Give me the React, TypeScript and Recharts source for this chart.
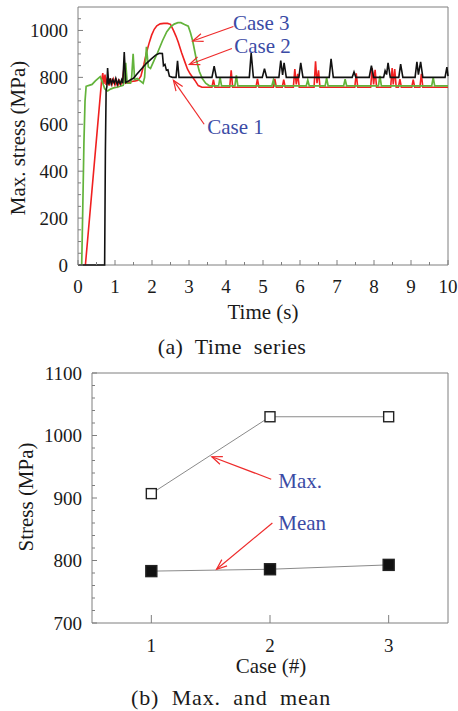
import React from 'react';
import { LineChart, Line, XAxis, YAxis, ReferenceArea, ReferenceLine, ReferenceDot } from 'recharts';

const FONT = "'Liberation Serif', 'Times New Roman', serif";
const BLUE = '#3b4ba5';
const ARROW = '#ee2b2b';
const FRAME = '#7f7f7f';

// ---------- (a) time series ----------
const timeTicks = [0, 0.5, 1, 1.5, 2, 2.5, 3, 3.5, 4, 4.5, 5, 5.5, 6, 6.5, 7, 7.5, 8, 8.5, 9, 9.5, 10];
const timeLabels = [0, 1, 2, 3, 4, 5, 6, 7, 8, 9, 10];
const stressTicks = [0, 50, 100, 150, 200, 250, 300, 350, 400, 450, 500, 550, 600, 650, 700, 750, 800, 850, 900, 950, 1000, 1050];
const stressLabels = [0, 200, 400, 600, 800, 1000];

const case1: [number, number][] = [
  [0, 0], [0.72, 0], [0.74, 480], [0.76, 745], [0.78, 760], [0.8, 840], [0.83, 770], [0.87, 795], [0.9, 772],
  [0.94, 790], [0.98, 775], [1.02, 795], [1.06, 770], [1.1, 788], [1.14, 772], [1.18, 790], [1.21, 775],
  [1.25, 908], [1.29, 778], [1.34, 782], [1.42, 790], [1.5, 796], [1.6, 815], [1.72, 837], [1.85, 860],
  [1.99, 880], [2.1, 895], [2.2, 903], [2.28, 902], [2.31, 850], [2.35, 855], [2.39, 830], [2.43, 832],
  [2.47, 805], [2.55, 800], [2.65, 800], [2.69, 870], [2.73, 800], [3.62, 800], [3.68, 848], [3.74, 800],
  [4.63, 800], [4.68, 905], [4.74, 800], [4.98, 800], [5.04, 837], [5.1, 800], [5.43, 800], [5.48, 872],
  [5.53, 810], [5.57, 862], [5.63, 800], [5.97, 800], [6.02, 862], [6.08, 800], [6.79, 800], [6.84, 879],
  [6.9, 800], [7.41, 800], [7.46, 823], [7.51, 800], [7.87, 800], [7.93, 850], [7.99, 800], [8.26, 800],
  [8.3, 828], [8.34, 812], [8.38, 862], [8.44, 800], [8.67, 800], [8.72, 856], [8.78, 800], [9.11, 800],
  [9.16, 866], [9.2, 812], [9.26, 866], [9.32, 800], [9.92, 800], [9.97, 844], [10, 805],
];

const case2: [number, number][] = [
  [0.2, 0], [0.64, 790], [0.67, 818], [0.7, 772], [0.73, 812], [0.76, 768], [0.8, 800], [0.84, 765],
  [0.88, 795], [0.92, 770], [0.96, 792], [1.0, 768], [1.04, 788], [1.08, 765], [1.12, 785], [1.16, 770],
  [1.2, 780], [1.25, 852], [1.29, 775], [1.36, 778], [1.45, 782], [1.55, 785], [1.62, 788], [1.7, 805],
  [1.78, 855], [1.85, 905], [1.92, 945], [1.99, 980], [2.06, 1005], [2.13, 1020], [2.22, 1028], [2.32, 1030],
  [2.42, 1030], [2.5, 1026], [2.58, 1000], [2.65, 975], [2.71, 950], [2.8, 905], [2.89, 865], [2.96, 835],
  [3.03, 815], [3.1, 800], [3.16, 787], [3.25, 765], [3.35, 758], [3.62, 758], [3.66, 790], [3.7, 758],
  [4.1, 758], [4.14, 830], [4.18, 758], [4.81, 758], [4.85, 794], [4.89, 758], [5.28, 758], [5.32, 794],
  [5.36, 758], [5.52, 758], [5.56, 790], [5.6, 758], [5.82, 758], [5.86, 835], [5.9, 770], [5.94, 815],
  [5.98, 758], [6.38, 758], [6.42, 868], [6.46, 775], [6.5, 830], [6.54, 758], [7.48, 758], [7.52, 817],
  [7.56, 758], [7.91, 758], [7.95, 840], [7.99, 770], [8.03, 832], [8.07, 758], [8.45, 758], [8.49, 840],
  [8.52, 770], [8.56, 835], [8.6, 758], [8.66, 758], [8.7, 792], [8.74, 758], [9.02, 758], [9.06, 790],
  [9.1, 758], [9.24, 758], [9.28, 815], [9.32, 758], [10, 758],
];

const case3: [number, number][] = [
  [0.1, 0], [0.13, 250], [0.16, 520], [0.19, 700], [0.22, 762], [0.3, 766], [0.38, 770], [0.47, 785],
  [0.6, 803], [0.66, 780], [0.72, 752], [0.8, 742], [0.88, 750], [0.96, 755], [1.05, 758], [1.14, 762],
  [1.22, 766], [1.25, 780], [1.29, 862], [1.33, 775], [1.42, 775], [1.45, 800], [1.49, 900], [1.53, 790],
  [1.6, 795], [1.68, 785], [1.76, 775], [1.8, 800], [1.85, 930], [1.9, 845], [1.96, 838], [2.05, 870],
  [2.15, 905], [2.28, 955], [2.4, 995], [2.5, 1015], [2.6, 1027], [2.7, 1033], [2.78, 1033], [2.88, 1025],
  [2.98, 1018], [3.04, 990], [3.1, 955], [3.2, 875], [3.28, 825], [3.36, 795], [3.45, 775], [3.55, 764],
  [3.8, 764], [3.84, 800], [3.88, 764], [4.24, 764], [4.28, 808], [4.32, 764], [5.24, 764], [5.28, 788],
  [5.32, 764], [6.17, 764], [6.21, 788], [6.25, 764], [6.68, 764], [6.72, 798], [6.76, 764], [7.18, 764],
  [7.22, 792], [7.26, 764], [8.12, 764], [8.16, 806], [8.2, 764], [9.56, 764], [9.6, 800], [9.64, 764],
  [10, 764],
];

// ---------- (b) max and mean ----------
const cases = [1, 2, 3];
const maxStress = [907, 1030, 1030];
const meanStress = [783, 786, 793];
const caseTicks = [1, 2, 3];
const stressTicksB = [700, 720, 740, 760, 780, 800, 820, 840, 860, 880, 900, 920, 940, 960, 980, 1000, 1020, 1040, 1060, 1080, 1100];
const stressLabelsB = [700, 800, 900, 1000, 1100];

const toPts = (arr: [number, number][]) => arr.map(([t, v]) => ({ t, v }));
const pts1 = toPts(case1);
const pts2 = toPts(case2);
const pts3 = toPts(case3);
const dataB = cases.map((c, i) => ({ c, max: maxStress[i], mean: meanStress[i] }));

const makeXTick = (labels: number[], major: number, minor: number, gap: number) => (props: any) => {
  const { x, y, payload } = props;
  const isMajor = labels.includes(payload.value);
  return (
    <g>
      <line x1={x} y1={y} x2={x} y2={y - (isMajor ? major : minor)} stroke={FRAME} strokeWidth={1} />
      {isMajor && (
        <text x={x} y={y + gap} textAnchor="middle" dominantBaseline="central" style={{ fontFamily: FONT, fontSize: 19 }} fill="#1a1a1a">
          {payload.value}
        </text>
      )}
    </g>
  );
};

const makeYTick = (labels: number[], major: number, minor: number, gap: number) => (props: any) => {
  const { x, y, payload } = props;
  const isMajor = labels.includes(payload.value);
  return (
    <g>
      <line x1={x} y1={y} x2={x + (isMajor ? major : minor)} y2={y} stroke={FRAME} strokeWidth={1} />
      {isMajor && (
        <text x={x - gap} y={y} textAnchor="end" dominantBaseline="central" style={{ fontFamily: FONT, fontSize: 19 }} fill="#1a1a1a">
          {payload.value}
        </text>
      )}
    </g>
  );
};

const Arrow = (props: any) => {
  const { x1, y1, x2, y2 } = props;
  const ang = Math.atan2(y1 - y2, x1 - x2);
  const L = 11;
  const a = 0.38;
  return (
    <g>
      <line x1={x1} y1={y1} x2={x2} y2={y2} stroke={ARROW} strokeWidth={1.2} />
      <polyline
        points={`${x2 + L * Math.cos(ang + a)},${y2 + L * Math.sin(ang + a)} ${x2},${y2} ${x2 + L * Math.cos(ang - a)},${y2 + L * Math.sin(ang - a)}`}
        fill="none"
        stroke={ARROW}
        strokeWidth={1.2}
      />
    </g>
  );
};

const noteShape = (label: string) => (p: any) => (
  <text x={p.cx} y={p.cy} textAnchor="start" dominantBaseline="central" style={{ fontFamily: FONT, fontSize: 21 }} fill={BLUE}>
    {label}
  </text>
);

const SquareDot = (filled: boolean) => (p: any) => {
  const s = filled ? 11 : 10;
  return (
    <rect
      key={`sq-${filled ? 'f' : 'o'}-${p.index}`}
      x={p.cx - s / 2}
      y={p.cy - s / 2}
      width={s}
      height={s}
      fill={filled ? '#111' : '#fff'}
      stroke="#222"
      strokeWidth={1.4}
    />
  );
};

const textStyle = (cx: number, cy: number, w: number, size: number, rotate = false, spacing = 0): React.CSSProperties => ({
  position: 'absolute',
  left: cx - w / 2,
  top: cy - 15,
  width: w,
  height: 30,
  lineHeight: '30px',
  textAlign: 'center',
  fontFamily: FONT,
  fontSize: size,
  letterSpacing: spacing,
  color: '#1a1a1a',
  whiteSpace: 'pre',
  transform: rotate ? 'rotate(-90deg)' : undefined,
});

export default function App() {
  return (
    <div style={{ position: 'absolute', left: 0, top: 0, width: 458, height: 711, background: '#fff' }}>
      <div style={{ position: 'absolute', left: 0, top: 0 }}>
        <LineChart width={458} height={335} margin={{ top: 7, right: 10, left: 0, bottom: 0 }}>
          <XAxis
            dataKey="t"
            type="number"
            domain={[0, 10]}
            ticks={timeTicks}
            interval={0}
            axisLine={false}
            tickLine={false}
            tickSize={0}
            tickMargin={0}
            height={70}
            tick={makeXTick(timeLabels, 5, 3, 21.5)}
            allowDuplicatedCategory={false}
          />
          <YAxis
            type="number"
            domain={[0, 1100]}
            ticks={stressTicks}
            interval={0}
            axisLine={false}
            tickLine={false}
            tickSize={0}
            tickMargin={0}
            width={78}
            tick={makeYTick(stressLabels, 5, 3, 10)}
          />
          <ReferenceArea x1={0} x2={10} y1={0} y2={1100} fill="none" stroke={FRAME} strokeWidth={1} ifOverflow="visible" />
          <Line data={pts2} dataKey="v" stroke="#f02020" strokeWidth={1.6} dot={false} isAnimationActive={false} type="linear" />
          <Line data={pts3} dataKey="v" stroke="#63b33b" strokeWidth={1.7} dot={false} isAnimationActive={false} type="linear" />
          <Line data={pts1} dataKey="v" stroke="#111111" strokeWidth={1.6} dot={false} isAnimationActive={false} type="linear" />
          <ReferenceLine segment={[{ x: 4.2, y: 1017 }, { x: 3.1, y: 955 }]} shape={Arrow} ifOverflow="visible" />
          <ReferenceLine segment={[{ x: 4.16, y: 923 }, { x: 3.01, y: 855 }]} shape={Arrow} ifOverflow="visible" />
          <ReferenceLine segment={[{ x: 3.41, y: 600 }, { x: 2.58, y: 787 }]} shape={Arrow} ifOverflow="visible" />
          <ReferenceDot x={4.19} y={1030} r={1} shape={noteShape('Case 3')} ifOverflow="visible" />
          <ReferenceDot x={4.22} y={932} r={1} shape={noteShape('Case 2')} ifOverflow="visible" />
          <ReferenceDot x={3.49} y={587} r={1} shape={noteShape('Case 1')} ifOverflow="visible" />
        </LineChart>
      </div>
      <div style={textStyle(17.5, 138, 260, 21, true)}>Max. stress (MPa)</div>
      <div style={textStyle(263, 312, 160, 21)}>Time (s)</div>
      <div style={textStyle(232, 347, 320, 22, false, 0.4)}>(a)  Time  series</div>

      <div style={{ position: 'absolute', left: 0, top: 350 }}>
        <LineChart width={458} height={330} data={dataB} margin={{ top: 23, right: 10, left: 0, bottom: 0 }}>
          <XAxis
            dataKey="c"
            type="number"
            domain={[0.5, 3.5]}
            ticks={caseTicks}
            interval={0}
            axisLine={false}
            tickLine={false}
            tickSize={0}
            tickMargin={0}
            height={57}
            tick={makeXTick(caseTicks, 8, 8, 22)}
          />
          <YAxis
            type="number"
            domain={[700, 1100]}
            ticks={stressTicksB}
            interval={0}
            axisLine={false}
            tickLine={false}
            tickSize={0}
            tickMargin={0}
            width={92}
            tick={makeYTick(stressLabelsB, 5, 3, 10)}
          />
          <ReferenceArea x1={0.5} x2={3.5} y1={700} y2={1100} fill="none" stroke={FRAME} strokeWidth={1} ifOverflow="visible" />
          <Line dataKey="max" stroke="#8a8a8a" strokeWidth={1} dot={SquareDot(false)} isAnimationActive={false} type="linear" />
          <Line dataKey="mean" stroke="#8a8a8a" strokeWidth={1} dot={SquareDot(true)} isAnimationActive={false} type="linear" />
          <ReferenceLine segment={[{ x: 2.01, y: 930 }, { x: 1.51, y: 966 }]} shape={Arrow} ifOverflow="visible" />
          <ReferenceLine segment={[{ x: 2.02, y: 860 }, { x: 1.55, y: 786 }]} shape={Arrow} ifOverflow="visible" />
          <ReferenceDot x={2.07} y={927} r={1} shape={noteShape('Max.')} ifOverflow="visible" />
          <ReferenceDot x={2.07} y={860} r={1} shape={noteShape('Mean')} ifOverflow="visible" />
        </LineChart>
      </div>
      <div style={textStyle(25.5, 497, 200, 21, true)}>Stress (MPa)</div>
      <div style={textStyle(271, 666, 160, 21)}>Case (#)</div>
      <div style={textStyle(231, 698, 340, 22, false, 0.8)}>(b)  Max.  and  mean</div>
    </div>
  );
}
